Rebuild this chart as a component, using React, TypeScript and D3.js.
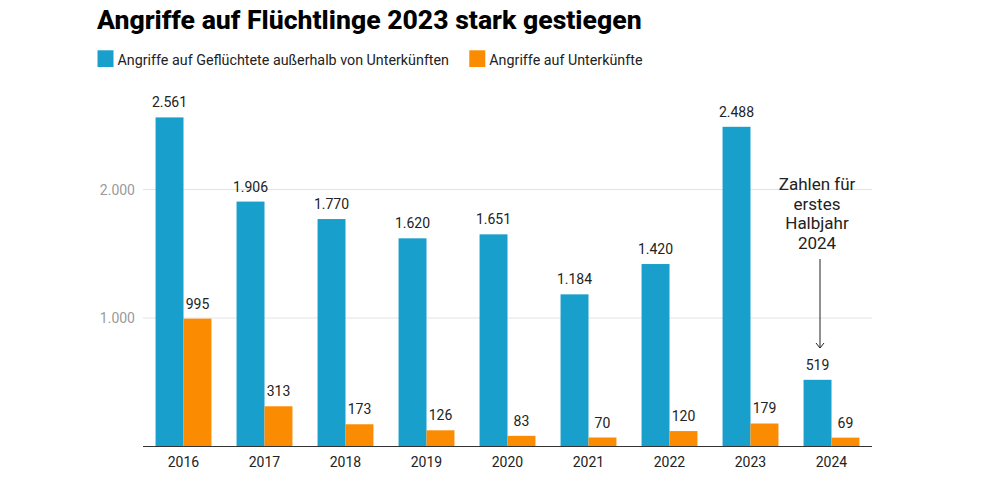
import React from "react";
import * as d3 from "d3";

const years = ["2016", "2017", "2018", "2019", "2020", "2021", "2022", "2023", "2024"];
const outside = [2561, 1906, 1770, 1620, 1651, 1184, 1420, 2488, 519];
const shelters = [995, 313, 173, 126, 83, 70, 120, 179, 69];
const seriesNames = ["Angriffe auf Geflüchtete außerhalb von Unterkünften", "Angriffe auf Unterkünfte"];
const seriesKeys = ["outside", "shelters"];
const yTicks = [1000, 2000];
const title = "Angriffe auf Flüchtlinge 2023 stark gestiegen";
const noteLines = ["Zahlen für", "erstes", "Halbjahr", "2024"];

const COLORS = ["#189fcc", "#fb8b00"];
const W = 1000, H = 488;
const left = 143, right = 872, baseY = 446.5;

export default function App() {
  const fmt = (v: number) => d3.format(",")(v).replace(/,/g, ".");
  const x0 = d3.scaleBand<string>().domain(years).range([left, right]).paddingInner(0.31).paddingOuter(0.155);
  const x1 = d3.scaleBand<string>().domain(seriesKeys).range([0, x0.bandwidth()]);
  const y = d3.scaleLinear().domain([0, 2000]).range([baseY, baseY - 257]);
  const data = years.map((yr, i) => ({ yr, vals: [outside[i], shelters[i]] }));
  const font = "Roboto, sans-serif";
  return (
    <svg width={W} height={H} style={{ position: "absolute", left: 0, top: 0 }} fontFamily={font}>
      <rect width={W} height={H} fill="#fff" />
      <text x={97} y={28.5} fontSize={26.6} fontWeight={800} fill="#000">{title}</text>
      <rect x={97.5} y={50.3} width={16} height={16.7} fill={COLORS[0]} />
      <text x={117.5} y={64.7} fontSize={14.3} fill="#222">{seriesNames[0]}</text>
      <rect x={469.3} y={50.3} width={16} height={16.7} fill={COLORS[1]} />
      <text x={489.3} y={64.7} fontSize={14.3} fill="#222">{seriesNames[1]}</text>
      {yTicks.map((t) => (
        <g key={t}>
          <line x1={left} x2={right} y1={y(t)} y2={y(t)} stroke="#e3e3e3" strokeWidth={1} />
          <text x={135} y={y(t) + 5} fontSize={14} fill="#9a9a9a" textAnchor="end">{fmt(t)}</text>
        </g>
      ))}
      {data.map((d) => (
        <g key={d.yr} transform={`translate(${x0(d.yr)},0)`}>
          {d.vals.map((v, j) => {
            const bx = x1(seriesKeys[j])!;
            return (
              <g key={j}>
                <rect x={bx} y={y(v)} width={x1.bandwidth()} height={baseY - y(v)} fill={COLORS[j]} />
                <text x={bx + x1.bandwidth() / 2} y={y(v) - 10} fontSize={14} fill="#222" textAnchor="middle">{fmt(v)}</text>
              </g>
            );
          })}
          <text x={x0.bandwidth() / 2} y={467} fontSize={14} fill="#222" textAnchor="middle">{d.yr}</text>
        </g>
      ))}
      <line x1={left} x2={right} y1={baseY} y2={baseY} stroke="#333" strokeWidth={1} />
      {noteLines.map((l, i) => (
        <text key={i} x={817} y={190 + i * 19.5} fontSize={17} fill="#222" textAnchor="middle">{l}</text>
      ))}
      <line x1={820} x2={820} y1={259} y2={348} stroke="#222" strokeWidth={1} />
      <polyline points="816,343 820,348 824,343" fill="none" stroke="#222" strokeWidth={1} />
    </svg>
  );
}
